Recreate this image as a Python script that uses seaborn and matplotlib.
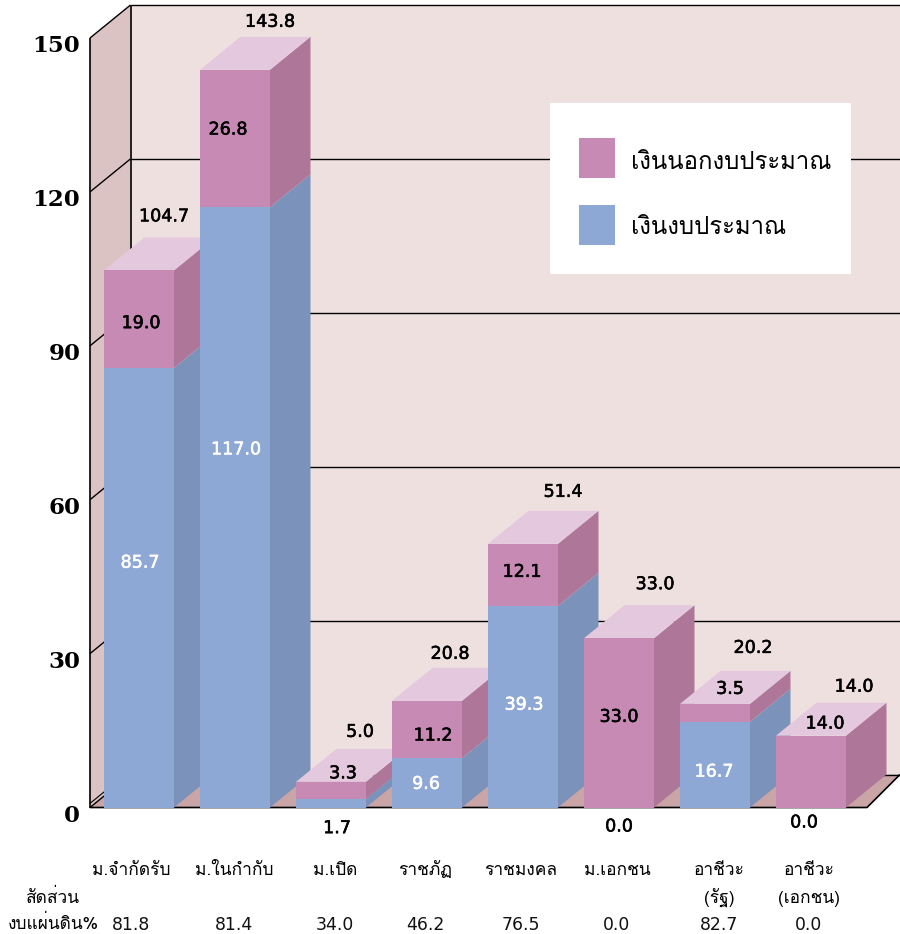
import matplotlib
matplotlib.use("Agg")
import matplotlib.pyplot as plt
import matplotlib.patheffects as pe
from matplotlib import font_manager as fm
from matplotlib.ft2font import FT2Font
from matplotlib.patches import Polygon, Rectangle, Patch
from matplotlib.transforms import ScaledTranslation
import seaborn as sns

CATEGORIES = ["ม.จำกัดรับ", "ม.ในกำกับ", "ม.เปิด", "ราชภัฏ", "ราชมงคล", "ม.เอกชน", "อาชีวะ\n(รัฐ)", "อาชีวะ\n(เอกชน)"]
IN_BUDGET = [85.7, 117.0, 1.7, 9.6, 39.3, 0.0, 16.7, 0.0]
OFF_BUDGET = [19.0, 26.8, 3.3, 11.2, 12.1, 33.0, 3.5, 14.0]
SHARE_PCT = [81.8, 81.4, 34.0, 46.2, 76.5, 0.0, 82.7, 0.0]
Y_TICKS = [0, 30, 60, 90, 120, 150]
SERIES_NAMES = ["เงินนอกงบประมาณ", "เงินงบประมาณ"]
SHARE_TITLE = ["สัดส่วน", "งบแผ่นดิน%"]

# label placement, in pixels from the anchor of each bar segment
TOTAL_OFFSET = [(25, 54), (35, 48), (29, 50), (23, 47), (40, 52), (36, 54), (38, 56), (43, 49)]
OFF_OFFSET = [(2, -4), (-7, 9), (12, 17), (6, -6), (-1, 3), (0, 6), (15, 24), (14, 48)]
IN_OFFSET = [(1, 25), (1, 58), (6, -25), (-1, -1), (1, 2), (0, -19), (-1, -7), (-7, -15)]
CAT_OFFSET = [-8, -1, 4, -2, -2, -2, 4, -2]

PINK, PINK_SIDE, PINK_TOP = "#C78AB4", "#AE7799", "#E4C8DD"
BLUE, BLUE_SIDE = "#8EA8D5", "#7B92BA"
WALL_BACK, WALL_LEFT, FLOOR = "#EFE0E0", "#DCC3C3", "#C9A5A5"

W, H, DPI = 900, 934, 100
X_LEFT, Y_ZERO, PX_PER_CAT, PX_PER_UNIT, CAT0 = 90, 807.5, 96.0, 5.13, 139
BAR_WIDTH = 70 / PX_PER_CAT
DEPTH_X, DEPTH_Y = 40.5 / PX_PER_CAT, 33 / PX_PER_UNIT


def thai_capable():
    for entry in fm.fontManager.ttflist:
        try:
            if FT2Font(entry.fname).get_char_index(ord("ก")):
                return [entry.name]
        except Exception:
            continue
    return []


sns.set_theme(style="white")
THAI = thai_capable() + ["DejaVu Sans"]
plt.rcParams["font.family"] = THAI

fig = plt.figure(figsize=(W / DPI, H / DPI), dpi=DPI, facecolor="white")
ax = fig.add_axes([X_LEFT / W, (H - Y_ZERO) / H, 1 - X_LEFT / W, Y_ZERO / H])
x0 = (X_LEFT - CAT0) / PX_PER_CAT
x1 = (W - CAT0) / PX_PER_CAT
floor_end = (867 - CAT0) / PX_PER_CAT
xb = x0 + DEPTH_X

totals = [a + b for a, b in zip(IN_BUDGET, OFF_BUDGET)]

# Stacked fronts: the totals first, the budget part painted over them
bar_style = dict(saturation=1, width=BAR_WIDTH, errorbar=None, ax=ax, linewidth=0, edgecolor="none")
sns.barplot(x=CATEGORIES, y=totals, color=PINK, **bar_style)
sns.barplot(x=CATEGORIES, y=IN_BUDGET, color=BLUE, **bar_style)
ax.set_xlim(x0, x1)
ax.set_ylim(0, Y_ZERO / PX_PER_UNIT)
ax.set_xlabel("")
ax.set_ylabel("")
ax.patch.set_visible(False)
for s in ax.spines.values():
    s.set_visible(False)

# Room: back wall, left wall and floor
ax.add_patch(Rectangle((xb, DEPTH_Y), x1 - xb, 150, fc=WALL_BACK, ec="none", zorder=1))
ax.add_patch(Polygon([(x0, 0), (xb, DEPTH_Y), (xb, 150 + DEPTH_Y), (x0, 150)], fc=WALL_LEFT, ec="none", zorder=1))
ax.add_patch(Polygon([(x0, 0), (floor_end, 0), (x1, DEPTH_Y), (xb, DEPTH_Y)], fc=FLOOR, ec="none", zorder=1.5))

room_line = dict(color="black", zorder=2, clip_on=False, solid_capstyle="butt")
for t in Y_TICKS:
    ax.plot([xb, x1], [t + DEPTH_Y] * 2, lw=1, **room_line)
    ax.plot([x0, xb], [t, t + DEPTH_Y], lw=1, **room_line)
ax.plot([x0, xb], [0.8, 0.8 + DEPTH_Y], lw=0.8, **room_line)
ax.plot([x0, x0], [0, 150], lw=1.2, **room_line)
ax.plot([xb, xb], [DEPTH_Y, 150 + DEPTH_Y], lw=1.2, **room_line)
ax.plot([x0, floor_end, x1], [0, 0, DEPTH_Y], lw=1.2, **room_line)


def side_face(x, low, high, color, z):
    ax.add_patch(Polygon([(x, low), (x, high), (x + DEPTH_X, high + DEPTH_Y), (x + DEPTH_X, low + DEPTH_Y)],
                         fc=color, ec="none", zorder=z))


# Extrude every bar; bars further right sit in front of their left neighbours
total_bars, budget_bars = ax.containers[0], ax.containers[1]
for i, (tb, bb) in enumerate(zip(total_bars, budget_bars)):
    z = 10 + i
    tb.set_zorder(z + 0.3)
    bb.set_zorder(z + 0.4)
    right = tb.get_x() + tb.get_width()
    low, top = bb.get_height(), tb.get_height()
    if low > 0:
        side_face(right, 0, low, BLUE_SIDE, z)
    side_face(right, low, top, PINK_SIDE, z)
    ax.add_patch(Polygon([(tb.get_x(), top), (right, top), (right + DEPTH_X, top + DEPTH_Y),
                          (tb.get_x() + DEPTH_X, top + DEPTH_Y)], fc=PINK_TOP, ec="none", zorder=z + 0.2))

# Value labels
num_font = "DejaVu Sans"


def value_label(x, y, off, text, color="black"):
    ax.annotate(text, xy=(x, y), xytext=off, textcoords="offset pixels", ha="center", va="center",
                family=num_font, fontsize=12.6, color=color, zorder=100, annotation_clip=False,
                path_effects=[pe.withStroke(linewidth=0.4, foreground=color)])


for i, (a, b) in enumerate(zip(IN_BUDGET, OFF_BUDGET)):
    value_label(i, a + b, TOTAL_OFFSET[i], f"{a + b:.1f}")
    value_label(i, a + b / 2, OFF_OFFSET[i], f"{b:.1f}")
    value_label(i, a / 2, IN_OFFSET[i], f"{a:.1f}", color="black" if a < 5 else "white")

# Value axis
ax.set_yticks(Y_TICKS)
ax.tick_params(axis="y", left=False, length=0, pad=7, labelsize=16.5)
shift = ScaledTranslation(0, -6 / DPI, fig.dpi_scale_trans)
for lab in ax.get_yticklabels():
    lab.set_family("DejaVu Serif")
    lab.set_weight("bold")
    lab.set_color("black")
    lab.set_transform(lab.get_transform() + shift)

# Category names (one baseline per line) and share row under the plot
ax.set_xticks([])
for i, name in enumerate(CATEGORIES):
    for j, line in enumerate(name.split("\n")):
        ax.annotate(line, xy=(i, 0), xytext=(CAT_OFFSET[i], -67.5 - 28 * j), textcoords="offset pixels",
                    ha="center", va="baseline", fontsize=12.5, color="black", annotation_clip=False)
    ax.annotate(f"{SHARE_PCT[i]:.1f}", xy=(i, 0), xytext=(CAT_OFFSET[i], -117), textcoords="offset pixels",
                ha="center", va="center", family=num_font, fontsize=12.4, color="#111111", annotation_clip=False)
fig.text(53 / W, 1 - 903 / H, SHARE_TITLE[0], ha="center", va="baseline", fontsize=12.5, color="black")
fig.text(99 / W, 1 - 929 / H, SHARE_TITLE[1], ha="right", va="baseline", fontsize=12.5, color="black")

# Legend panel: white card with the two series keys on it
ax.add_patch(Rectangle((550 / W, 1 - 274 / H), 301 / W, 171 / H, transform=fig.transFigure,
                       fc="white", ec="none", zorder=89))
handles = [Patch(fc=PINK, ec="none"), Patch(fc=BLUE, ec="none")]
leg = ax.legend(handles, SERIES_NAMES, loc="upper left",
                bbox_to_anchor=(579 / W, 1 - 138 / H), bbox_transform=fig.transFigure,
                borderaxespad=0, borderpad=0, frameon=False, labelcolor="black",
                fontsize=17.2, labelspacing=1.13, handlelength=1.506, handleheight=2.2, handletextpad=0.67)
leg.set_zorder(90)
for txt, drop in zip(leg.get_texts(), (4, 2)):
    txt.set_y(-drop)

fig.savefig("out.png", dpi=DPI, facecolor="white")
